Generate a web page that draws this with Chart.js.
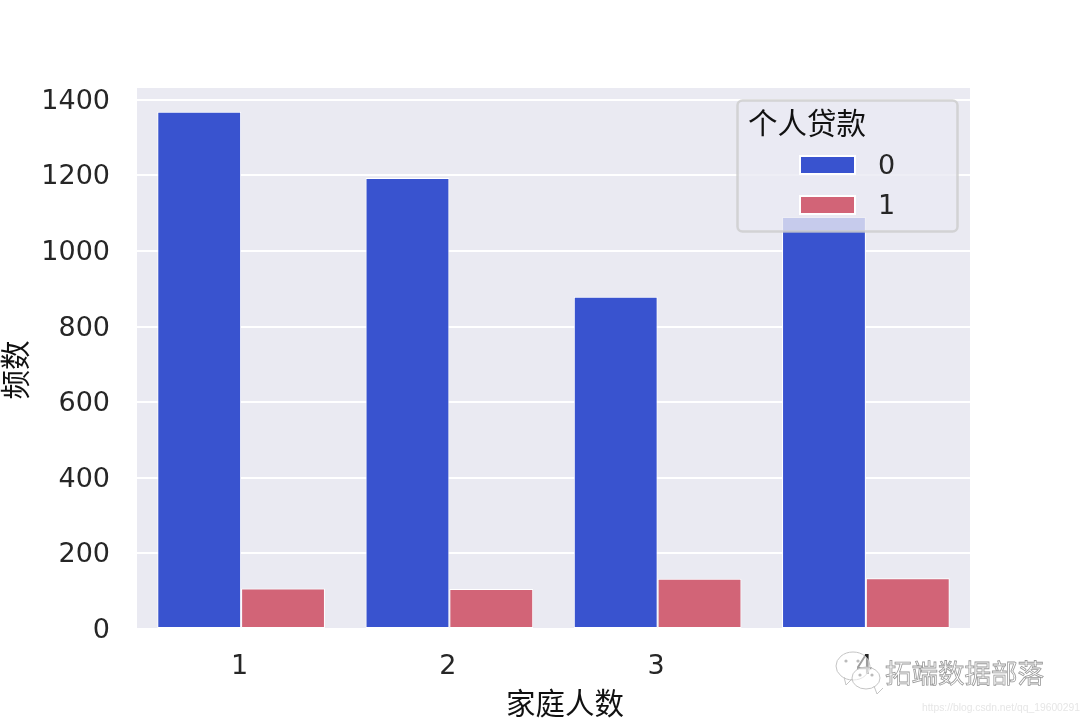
<!DOCTYPE html>
<html>
<head>
<meta charset="utf-8">
<script src="https://cdn.jsdelivr.net/npm/chart.js@4"></script>
<style>
html, body { margin: 0; padding: 0; background: #fff; }
canvas { display: block; }
</style>
</head>
<body>
<canvas id="myChart" width="1080" height="720"></canvas>
<script>
var categories = ["1", "2", "3", "4"];
var seriesNames = ["0", "1"];
var loan0 = [1368, 1193, 879, 1090];
var loan1 = [107, 106, 133, 134];
var yTicks = [0, 200, 400, 600, 800, 1000, 1200, 1400];
var yMax = 1431;
var xTitle = "家庭人数";
var yTitle = "频数";
var legendTitle = "个人贷款";
var watermark = "拓端数据部落";
var watermarkUrl = "https://blog.csdn.net/qq_19600291";

var blue = "#3953cf";
var red = "#d26477";
var cjk = '"Noto Sans CJK SC", sans-serif';
var latin = '"DejaVu Sans", sans-serif';
var ink = "#262626";

// grey plot background, seaborn style
var plotBg = {
    id: "plotBg",
    beforeDraw: function (chart) {
        var a = chart.chartArea, c = chart.ctx;
        c.save();
        c.fillStyle = "#eaeaf2";
        c.fillRect(a.left, a.top, a.width, a.height);
        c.restore();
    }
};

// the axis titles sit off centre in the original, the scale title can't do that
var axisTitles = {
    id: "axisTitles",
    afterDraw: function (chart) {
        var c = chart.ctx;
        c.save();
        c.fillStyle = "#111";
        c.font = "29.5px " + cjk;
        c.textAlign = "center";
        c.textBaseline = "middle";
        c.fillText(xTitle, 565, 703);
        c.translate(15, 370);
        c.rotate(-Math.PI / 2);
        c.fillText(yTitle, 0, 0);
        c.restore();
    }
};

// legend sits over the bars and is see-through, so it is drawn after them
var boxLegend = {
    id: "boxLegend",
    afterDatasetsDraw: function (chart) {
        var c = chart.ctx;
        c.save();
        c.beginPath();
        c.roundRect(737.5, 100.5, 220, 131, 5);
        c.fillStyle = "rgba(234,234,242,0.8)";
        c.fill();
        c.lineWidth = 2.5;
        c.strokeStyle = "rgba(204,204,204,0.8)";
        c.stroke();

        c.textBaseline = "middle";
        c.fillStyle = "#111";
        c.font = "29.5px " + cjk;
        c.fillText(legendTitle, 748, 123);

        chart.data.datasets.forEach(function (ds, i) {
            var y = 156 + i * 40;
            c.fillStyle = ds.backgroundColor;
            c.strokeStyle = "#fff";
            c.lineWidth = 2;
            c.fillRect(800, y, 55, 18);
            c.strokeRect(800, y, 55, 18);
            c.fillStyle = ink;
            c.font = "27px " + latin;
            c.fillText(ds.label, 878, y + 11);
        });
        c.restore();
    }
};

// wechat logo and blog watermark in the bottom corner
var stamp = {
    id: "stamp",
    afterDraw: function (chart) {
        var c = chart.ctx;
        c.save();
        function bubble(x, y, rx, ry, tx, ty) {
            c.beginPath();
            c.ellipse(x, y, rx, ry, 0, 0, Math.PI * 2);
            c.moveTo(x - tx, y + ry - 3);
            c.lineTo(x - tx + ty, y + ry + 5);
            c.lineTo(x - tx + ty + 6, y + ry - 1);
            c.fillStyle = "rgba(255,255,255,0.55)";
            c.fill();
            c.strokeStyle = "#c4c4c4";
            c.lineWidth = 1;
            c.stroke();
        }
        bubble(853, 666, 17, 14, 9, 2);
        bubble(866, 678, 14, 11, -8, 3);
        c.fillStyle = "#bbb";
        [[846, 661], [858, 661], [860, 675], [872, 675]].forEach(function (p) {
            c.beginPath();
            c.arc(p[0], p[1], 1.6, 0, Math.PI * 2);
            c.fill();
        });

        c.font = "26.5px " + cjk;
        c.textBaseline = "middle";
        c.fillStyle = "#fff";
        c.strokeStyle = "#999";
        c.lineWidth = 0.8;
        c.fillText(watermark, 885, 673);
        c.strokeText(watermark, 885, 673);

        c.font = "10.3px 'Liberation Sans', sans-serif";
        c.fillStyle = "#e6e6e6";
        c.fillText(watermarkUrl, 922, 708);
        c.restore();
    }
};

var ctx = document.getElementById("myChart").getContext("2d");
var myChart = new Chart(ctx, {
    type: "bar",
    data: {
        labels: categories,
        datasets: [
            { label: seriesNames[0], data: loan0, backgroundColor: blue },
            { label: seriesNames[1], data: loan1, backgroundColor: red }
        ]
    },
    options: {
        responsive: false,
        animation: false,
        layout: { padding: { top: 88, right: 110, left: 0, bottom: 0 } },
        datasets: {
            bar: {
                categoryPercentage: 0.805,
                barPercentage: 1,
                borderColor: "#fff",
                borderWidth: 1,
                borderSkipped: false
            }
        },
        plugins: {
            legend: { display: false },
            tooltip: { enabled: false }
        },
        scales: {
            x: {
                grid: { display: false },
                border: { display: false },
                ticks: { color: ink, font: { family: latin, size: 27 }, padding: 14, maxRotation: 0, labelOffset: -1.5 },
                afterFit: function (s) { s.height = 91; }
            },
            y: {
                min: 0,
                max: yMax,
                grid: { color: "#fff", lineWidth: 2, drawTicks: false },
                border: { display: false },
                ticks: { color: ink, font: { family: latin, size: 27 }, padding: 27, labelOffset: 2, callback: function (v) { return String(v); } },
                afterBuildTicks: function (s) { s.ticks = yTicks.map(function (v) { return { value: v }; }); },
                afterFit: function (s) { s.width = 137; }
            }
        }
    },
    plugins: [plotBg, axisTitles, boxLegend, stamp]
});
</script>
</body>
</html>
